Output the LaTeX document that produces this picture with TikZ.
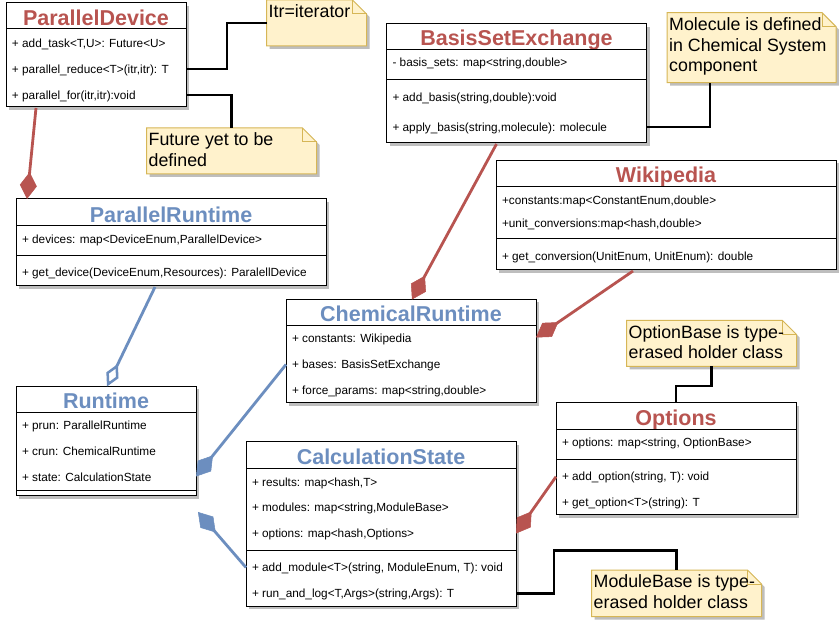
\documentclass[tikz,border=0pt]{standalone}
\usepackage{fontspec}
\setmainfont{Liberation Sans}
\usetikzlibrary{arrows.meta}
\definecolor{redc}{HTML}{B85450}
\definecolor{bluec}{HTML}{6C8EBF}
\definecolor{notefill}{HTML}{FFF2CC}
\definecolor{noteline}{HTML}{D6B656}
\definecolor{shadowc}{RGB}{190,190,190}
\newcommand{\titlefnt}{\fontsize{21.5}{25}\selectfont\bfseries}
\newcommand{\rowfnt}{\fontsize{11.8}{14}\selectfont}
\newcommand{\notefnt}{\fontsize{17.8}{20.7}\selectfont}
\tikzset{
  boxstyle/.style={draw=black, fill=white, line width=1pt, anchor=north west, inner sep=0pt, outer sep=0pt},
  titlestyle/.style={anchor=base, inner sep=0pt, font=\titlefnt},
  rowstyle/.style={anchor=west, inner sep=0pt, outer sep=0pt, text height=8.6pt, text depth=0pt, font=\rowfnt},
  sepline/.style={draw=black, line width=1pt},
  notestyle/.style={draw=noteline, fill=notefill, line width=1pt, line join=miter},
  notetext/.style={anchor=north west, inner sep=0pt, align=left, font=\notefnt},
  conn/.style={draw=black, line width=2.8pt},
  redline/.style={draw=redc, line width=2.8pt},
  blueline/.style={draw=bluec, line width=2.8pt},
  fdiam/.style={-{Diamond[length=27pt,width=17pt,line width=0.5pt]}},
  odiam/.style={-{Diamond[length=25pt,width=13.5pt,line width=2.5pt,fill=white]}},
}
\newcommand{\umlbox}[5]{%
  \fill[shadowc] (#2+3,#3+3) rectangle ++(#4,#5);
  \node[boxstyle, minimum width=#4pt, minimum height=#5pt] (#1) at (#2,#3) {};
}
\newcommand{\umlnote}[5]{%
  \fill[shadowc] (#2+3,#3+3) -- (#2+#4+3-14,#3+3) -- (#2+#4+3,#3+3+14) -- (#2+#4+3,#3+#5+3) -- (#2+3,#3+#5+3) -- cycle;
  \path[notestyle] (#2,#3) -- (#2+#4-14,#3) -- (#2+#4,#3+14) -- (#2+#4,#3+#5) -- (#2,#3+#5) -- cycle;
  \draw[notestyle, fill=none] (#2+#4-14,#3) -- (#2+#4-14,#3+14) -- (#2+#4,#3+14);
  \node[anchor=north west, minimum width=#4pt, minimum height=#5pt, inner sep=0pt, outer sep=0pt] (#1) at (#2,#3) {};
}
\begin{document}
\begin{tikzpicture}[x=1pt, y=-1pt]
\fill[white] (0,0) rectangle (839,620);
\useasboundingbox (0,0) rectangle (839,620);

% ---------- boxes ----------
% ParallelDevice
\umlbox{pd}{6}{3}{180}{104}
\node[titlestyle, text=redc] (pdt) at (96,25.2) {ParallelDevice};
\draw[sepline] (6,29) -- ++(180,0);
\node[rowstyle] (pd1) at (12,43) {+ add\_task<T,U>: Future<U>};
\node[rowstyle] (pd2) at (12,69) {+ parallel\_reduce<T>(itr,itr): T};
\node[rowstyle] (pd3) at (12,95) {+ parallel\_for(itr,itr):void};

% BasisSetExchange
\umlbox{bse}{386.5}{24}{260}{119}
\node[titlestyle, text=redc] (bset) at (516.5,45.5) {BasisSetExchange};
\draw[sepline] (386.5,49.5) -- ++(260,0);
\node[rowstyle] (bse1) at (392.5,62.5) {- basis\_sets: map<string,double>};
\draw[sepline] (386.5,79.5) -- ++(260,0);
\node[rowstyle] (bse2) at (392.5,97) {+ add\_basis(string,double):void};
\node[rowstyle] (bse3) at (392.5,127) {+ apply\_basis(string,molecule): molecule};

% ParallelRuntime
\umlbox{pr}{16}{199}{310}{87}
\node[titlestyle, text=bluec] (prt) at (171,222.2) {ParallelRuntime};
\draw[sepline] (16,226) -- ++(310,0);
\node[rowstyle] (pr1) at (22,239.5) {+ devices: map<DeviceEnum,ParallelDevice>};
\draw[sepline] (16,255.5) -- ++(310,0);
\node[rowstyle] (pr2) at (22,272) {+ get\_device(DeviceEnum,Resources): ParalellDevice};

% Wikipedia
\umlbox{wiki}{496}{160.5}{340}{109.5}
\node[titlestyle, text=redc] (wikit) at (666,182.5) {Wikipedia};
\draw[sepline] (496,186.5) -- ++(340,0);
\node[rowstyle] (wiki1) at (502,200) {+constants:map<ConstantEnum,double>};
\node[rowstyle] (wiki2) at (502,223.5) {+unit\_conversions:map<hash,double>};
\draw[sepline] (496,238.5) -- ++(340,0);
\node[rowstyle] (wiki3) at (502,256) {+ get\_conversion(UnitEnum, UnitEnum): double};

% ChemicalRuntime
\umlbox{cr}{286}{299.5}{250}{103.5}
\node[titlestyle, text=bluec] (crt) at (411,321.7) {ChemicalRuntime};
\draw[sepline] (286,325.5) -- ++(250,0);
\node[rowstyle] (cr1) at (292,338.5) {+ constants: Wikipedia};
\node[rowstyle] (cr2) at (292,364.5) {+ bases: BasisSetExchange};
\node[rowstyle] (cr3) at (292,390) {+ force\_params: map<string,double>};

% Runtime
\umlbox{rt}{16}{386.5}{180}{109.5}
\node[titlestyle, text=bluec] (rtt) at (106,408.5) {Runtime};
\draw[sepline] (16,412.3) -- ++(180,0);
\node[rowstyle] (rt1) at (22,425.5) {+ prun: ParallelRuntime};
\node[rowstyle] (rt2) at (22,451.5) {+ crun: ChemicalRuntime};
\node[rowstyle] (rt3) at (22,477.5) {+ state: CalculationState};
\draw[sepline] (16,490.5) -- ++(180,0);

% CalculationState
\umlbox{cs}{246}{442}{270}{164}
\node[titlestyle, text=bluec] (cst) at (381,465) {CalculationState};
\draw[sepline] (246,468.7) -- ++(270,0);
\node[rowstyle] (cs1) at (252,481.7) {+ results: map<hash,T>};
\node[rowstyle] (cs2) at (252,507.5) {+ modules: map<string,ModuleBase>};
\node[rowstyle] (cs3) at (252,533.5) {+ options: map<hash,Options>};
\draw[sepline] (246,550) -- ++(270,0);
\node[rowstyle] (cs4) at (252,567.5) {+ add\_module<T>(string, ModuleEnum, T): void};
\node[rowstyle] (cs5) at (252,593.3) {+ run\_and\_log<T,Args>(string,Args): T};

% Options
\umlbox{opt}{556}{403}{240}{112}
\node[titlestyle, text=redc] (optt) at (676,425.5) {Options};
\draw[sepline] (556,429.5) -- ++(240,0);
\node[rowstyle] (opt1) at (562,442.7) {+ options: map<string, OptionBase>};
\draw[sepline] (556,459.7) -- ++(240,0);
\node[rowstyle] (opt2) at (562,476.7) {+ add\_option(string, T): void};
\node[rowstyle] (opt3) at (562,502.7) {+ get\_option<T>(string): T};

% ---------- notes ----------
\umlnote{itr}{266.5}{0}{100}{46}
\node[notetext] (itrx) at (268.5,4.7) {Itr=iterator};
\umlnote{fut}{146.5}{128}{170}{46}
\node[notetext] (futx) at (148.5,132.7) {Future yet to be\\defined};
\umlnote{mol}{667}{12.7}{169}{70}
\node[notetext] (molx) at (669,17.4) {Molecule is defined\\in Chemical System\\component};
\umlnote{optn}{626.5}{320.5}{170}{46}
\node[notetext] (optnx) at (628.5,325.2) {OptionBase is type-\\erased holder class};
\umlnote{mb}{591.5}{570}{170}{46.5}
\node[notetext] (mbx) at (593.5,574.7) {ModuleBase is type-\\erased holder class};

% ---------- connectors ----------
\draw[conn] (pd.east |- pd2) -- ++(41,0) |- (itr.west);
\draw[conn] (pd.east |- pd3) -| (fut.north);
\draw[conn] (bse.east |- bse3) -| ([xshift=-41.5pt]mol.south);
\draw[conn] (optn.south) -- ++(0,19.5) -| (opt.north);
\draw[conn] (cs.east |- cs5) -- ++(38,0) -- ++(0,-43) -| (mb.north);

\draw[redline, fdiam] ([xshift=30pt,yshift=-1pt]pd.south west) -- ([xshift=11pt]pr.north west);
\draw[redline, fdiam] ([xshift=110pt,yshift=-1pt]bse.south west) -- ([xshift=126pt]cr.north west);
\draw[redline, fdiam] ([xshift=137pt,yshift=-1pt]wiki.south west) -- ([yshift=-38pt]cr.north east);
\draw[redline, fdiam] (opt.west |- opt2) -- (cs.east |- cs3);
\draw[blueline, odiam] ([xshift=139pt,yshift=-1pt]pr.south west) -- ([xshift=91pt]rt.north west);
\draw[blueline, fdiam] (cr.west |- cr2) -- ([yshift=-90pt]rt.north east);
\coordinate (rtc) at ([xshift=2pt,yshift=-16pt]rt.south east);
\draw[blueline, fdiam] (cs.west |- cs4) -- (rtc);
\end{tikzpicture}
\end{document}
